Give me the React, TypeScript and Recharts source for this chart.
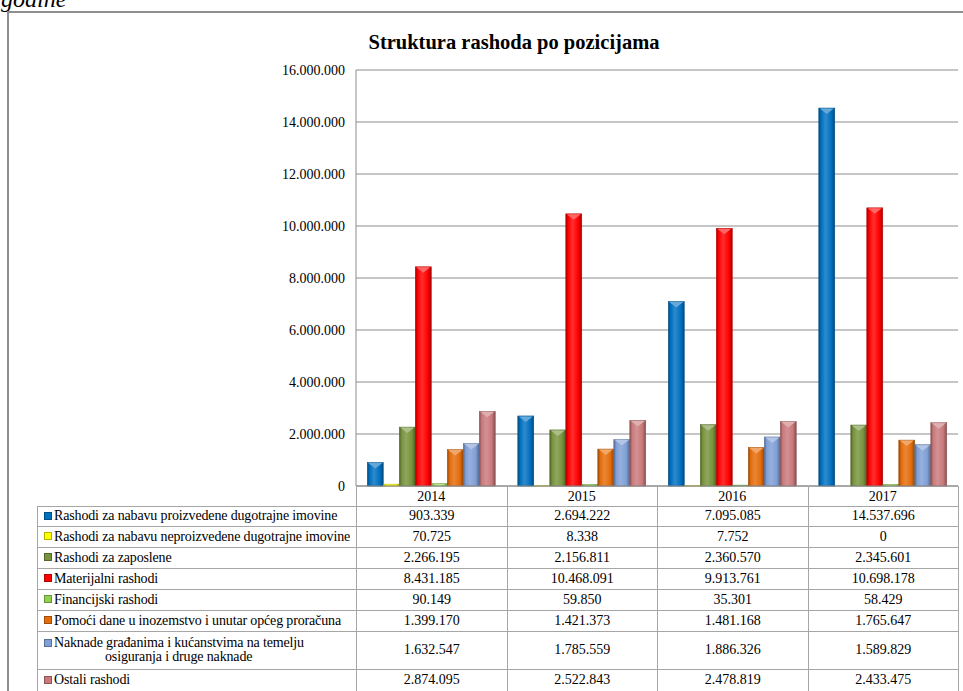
import React from 'react';
import { BarChart, Bar, XAxis, YAxis, CartesianGrid } from 'recharts';

const years = ['2014', '2015', '2016', '2017'];
const proizvedene = [903339, 2694222, 7095085, 14537696];
const neproizvedene = [70725, 8338, 7752, 0];
const zaposlene = [2266195, 2156811, 2360570, 2345601];
const materijalni = [8431185, 10468091, 9913761, 10698178];
const financijski = [90149, 59850, 35301, 58429];
const pomoci = [1399170, 1421373, 1481168, 1765647];
const naknade = [1632547, 1785559, 1886326, 1589829];
const ostali = [2874095, 2522843, 2478819, 2433475];

const seriesNames = [
  'Rashodi za nabavu proizvedene dugotrajne imovine',
  'Rashodi za nabavu neproizvedene dugotrajne imovine',
  'Rashodi za zaposlene',
  'Materijalni rashodi',
  'Financijski rashodi',
  'Pomoći dane u inozemstvo i unutar općeg proračuna',
  'Naknade građanima i kućanstvima na temelju|osiguranja i druge naknade',
  'Ostali rashodi',
];
const seriesValues = [proizvedene, neproizvedene, zaposlene, materijalni, financijski, pomoci, naknade, ostali];
const seriesColors = ['#0070C0', '#FFFF00', '#77933C', '#FF0000', '#92D050', '#E46C0A', '#7F9FD6', '#C9797B'];
const yTicks = [0, 2000000, 4000000, 6000000, 8000000, 10000000, 12000000, 14000000, 16000000];

const title = 'Struktura rashoda po pozicijama';
const topText = 'godine';

const data = years.map((y, i) => {
  const row: any = { year: y };
  seriesValues.forEach((s, k) => { row['s' + k] = s[i]; });
  return row;
});

const FONT = '"Liberation Serif", "Times New Roman", serif';
const W = 963;
const H = 691;
const PLOT_LEFT = 356;
const PLOT_RIGHT = 958;
const PLOT_TOP = 70;
const PLOT_BOTTOM = 486;
const TABLE_LEFT = 37;
const Y_AXIS_W = 80;
const X_AXIS_H = 30;
const HEADER_H = 20;
const ROW_H = [20, 21, 21, 21, 21, 21, 38, 22];
const GRID = '#8c8c8c';
const TBORDER = '#a6a6a6';

const fmt = (n: number) => String(n).replace(/\B(?=(\d{3})+(?!\d))/g, '.');

function hexToRgb(h: string) {
  const v = parseInt(h.slice(1), 16);
  return [(v >> 16) & 255, (v >> 8) & 255, v & 255];
}
function mix(h: string, target: number, t: number) {
  const c = hexToRgb(h).map((x) => Math.round(x + (target - x) * t));
  return `rgb(${c[0]},${c[1]},${c[2]})`;
}

const CylBar = (props: any) => {
  const { x, y, width, height, ci, index } = props;
  if (!height || height <= 0 || !width) return null;
  const base = seriesColors[ci];
  const id = `cyl-${ci}-${index}`;
  const bev = Math.min(6, height);
  return (
    <g>
      <defs>
        <linearGradient id={id} x1="0" y1="0" x2="1" y2="0">
          <stop offset="0%" stopColor={mix(base, 0, 0.35)} />
          <stop offset="15%" stopColor={base} />
          <stop offset="42%" stopColor={mix(base, 255, 0.18)} />
          <stop offset="78%" stopColor={base} />
          <stop offset="100%" stopColor={mix(base, 0, 0.35)} />
        </linearGradient>
      </defs>
      <rect x={x} y={y} width={width} height={height} fill={`url(#${id})`} stroke={mix(base, 0, 0.3)} strokeWidth={0.5} />
      {height > 2 && (
        <polygon
          points={`${x + 1},${y + 0.5} ${x + width - 1},${y + 0.5} ${x + width / 2},${y + bev}`}
          fill={mix(base, 255, 0.4)}
        />
      )}
    </g>
  );
};

const makeShape = (ci: number) => (p: any) => <CylBar {...p} ci={ci} />;

export default function App() {
  const colW = (PLOT_RIGHT - PLOT_LEFT) / years.length;
  const labelW = PLOT_LEFT - TABLE_LEFT;
  const cell: React.CSSProperties = {
    border: `1px solid ${TBORDER}`,
    padding: 0,
    fontSize: 14,
    fontFamily: FONT,
    color: '#000',
    textAlign: 'center',
    verticalAlign: 'middle',
    lineHeight: '14px',
    whiteSpace: 'nowrap',
    overflow: 'hidden',
  };
  return (
    <div style={{ position: 'fixed', left: 0, top: 0, width: W, height: H, overflow: 'hidden', background: '#fff', fontFamily: FONT }}>
      <div style={{ position: 'absolute', left: 1, top: -13, fontFamily: FONT, fontStyle: 'italic', fontSize: 24, lineHeight: '24px', color: '#000' }}>
        {topText}
      </div>
      <div style={{ position: 'absolute', left: 7, top: 11, width: 2000, height: 2000, border: '2px solid #8f8f8f', boxSizing: 'border-box' }} />
      <div style={{ position: 'absolute', left: 264, top: 29, width: 500, textAlign: 'center', fontFamily: FONT, fontWeight: 'bold', fontSize: 20.5, lineHeight: '26px', color: '#000' }}>
        {title}
      </div>
      <div style={{ position: 'absolute', left: 0, top: 0 }}>
        <BarChart
          width={W}
          height={H}
          data={data}
          margin={{ top: PLOT_TOP, right: W - PLOT_RIGHT, left: PLOT_LEFT - Y_AXIS_W, bottom: H - PLOT_BOTTOM - X_AXIS_H }}
          barCategoryGap="7.5%"
          barGap={0}
        >
          <CartesianGrid vertical={false} stroke={GRID} strokeWidth={1} />
          <XAxis
            dataKey="year"
            height={X_AXIS_H}
            tickLine={false}
            tickSize={0}
            tickMargin={5}
            axisLine={{ stroke: GRID }}
            tick={{ fill: '#000', fontSize: 14, fontFamily: FONT }}
          />
          <YAxis
            width={Y_AXIS_W}
            domain={[0, 16000000]}
            ticks={yTicks}
            interval={0}
            tickLine={false}
            tickSize={0}
            tickMargin={11}
            axisLine={{ stroke: GRID }}
            tickFormatter={(v: number) => fmt(v)}
            tick={{ fill: '#000', fontSize: 14, fontFamily: FONT }}
          />
          {seriesValues.map((_, k) => (
            <Bar key={k} dataKey={'s' + k} name={seriesNames[k]} fill={seriesColors[k]} isAnimationActive={false} shape={makeShape(k)} />
          ))}
        </BarChart>
      </div>
      <table
        style={{
          position: 'absolute',
          left: TABLE_LEFT,
          top: PLOT_BOTTOM,
          width: PLOT_RIGHT - TABLE_LEFT,
          borderCollapse: 'collapse',
          tableLayout: 'fixed',
          fontFamily: FONT,
          fontSize: 14,
        }}
      >
        <colgroup>
          <col style={{ width: labelW }} />
          {years.map((y) => (
            <col key={y} style={{ width: colW }} />
          ))}
        </colgroup>
        <tbody>
          <tr style={{ height: HEADER_H }}>
            <td style={{ ...cell, border: 'none', borderRight: `1px solid ${TBORDER}` }} />
            {years.map((y) => (
              <td key={y} style={{ ...cell, borderTop: 'none', color: 'transparent' }}>{y}</td>
            ))}
          </tr>
          {seriesNames.map((name, k) => {
            const parts = name.split('|');
            return (
              <tr key={k} style={{ height: ROW_H[k] }}>
                <td style={{ ...cell, textAlign: 'left', paddingLeft: 6, letterSpacing: '-0.15px' }}>
                  <span
                    style={{
                      display: 'inline-block',
                      width: 6,
                      height: 6,
                      marginRight: 2,
                      background: seriesColors[k],
                      border: `0.5px solid ${mix(seriesColors[k], 0, 0.3)}`,
                      verticalAlign: 'middle',
                      position: 'relative',
                      top: -1,
                    }}
                  />
                  {parts[0]}
                  {parts[1] && (
                    <div style={{ paddingLeft: 61 }}>{parts[1]}</div>
                  )}
                </td>
                {seriesValues[k].map((v, i) => (
                  <td key={i} style={cell}>{fmt(v)}</td>
                ))}
              </tr>
            );
          })}
        </tbody>
      </table>
    </div>
  );
}
